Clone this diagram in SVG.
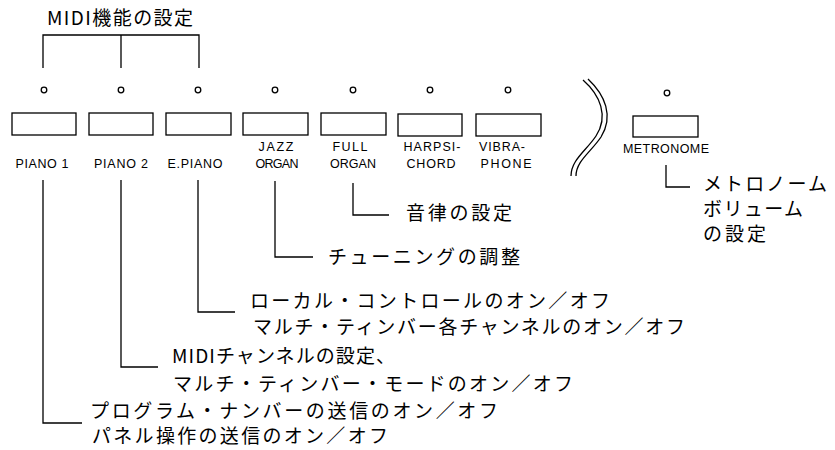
<svg xmlns="http://www.w3.org/2000/svg" width="835" height="450" viewBox="0 0 835 450">
<style>
.bg{fill:#fff}
.btn{fill:#fff;stroke:#000;stroke-width:1.3}
.led{fill:#fff;stroke:#000;stroke-width:1.3}
.ln{fill:none;stroke:#000;stroke-width:1.3}
.lbl{font-family:"Liberation Sans",Arial,sans-serif;font-size:12.5px;fill:#000;text-anchor:middle}
.jp{font-family:"Noto Sans CJK JP","Noto Sans",sans-serif;font-size:19px;fill:#000}
</style>
<rect class="bg" x="0" y="0" width="835" height="450"/>
<g id="title">
<text class="jp" x="47" y="25" textLength="146" lengthAdjust="spacing">MIDI機能の設定</text>
</g>
<g id="btn-piano1">
<circle class="led" cx="44" cy="90" r="2.8"/>
<rect class="btn" x="12" y="113" width="64" height="22"/>
<text class="lbl" x="42" y="168" textLength="53" lengthAdjust="spacing">PIANO 1</text>
</g>
<g id="btn-piano2">
<circle class="led" cx="121" cy="90" r="2.8"/>
<rect class="btn" x="89" y="113" width="64" height="22"/>
<text class="lbl" x="121" y="168" textLength="54" lengthAdjust="spacing">PIANO 2</text>
</g>
<g id="btn-epiano">
<circle class="led" cx="198" cy="90" r="2.8"/>
<rect class="btn" x="166" y="113" width="65" height="22"/>
<text class="lbl" x="195" y="168" textLength="55" lengthAdjust="spacing">E.PIANO</text>
</g>
<g id="btn-jazz">
<circle class="led" cx="275" cy="90" r="2.8"/>
<rect class="btn" x="243" y="113" width="65" height="22"/>
<text class="lbl" x="276" y="151" textLength="35" lengthAdjust="spacing">JAZZ</text>
<text class="lbl" x="277" y="168" textLength="43" lengthAdjust="spacing">ORGAN</text>
</g>
<g id="btn-full">
<circle class="led" cx="353" cy="90" r="2.8"/>
<rect class="btn" x="321" y="113" width="65" height="22"/>
<text class="lbl" x="350" y="151" textLength="35" lengthAdjust="spacing">FULL</text>
<text class="lbl" x="353" y="168" textLength="46" lengthAdjust="spacing">ORGAN</text>
</g>
<g id="btn-harpsi">
<circle class="led" cx="430" cy="90" r="2.8"/>
<rect class="btn" x="398" y="114" width="64" height="22"/>
<text class="lbl" x="432" y="151" textLength="57" lengthAdjust="spacing">HARPSI-</text>
<text class="lbl" x="431" y="168" textLength="49" lengthAdjust="spacing">CHORD</text>
</g>
<g id="btn-vibra">
<circle class="led" cx="508" cy="90" r="2.8"/>
<rect class="btn" x="476" y="114" width="65" height="22"/>
<text class="lbl" x="502" y="151" textLength="46" lengthAdjust="spacing">VIBRA-</text>
<text class="lbl" x="506" y="168" textLength="51" lengthAdjust="spacing">PHONE</text>
</g>
<g id="separator">
<path class="ln" d="M583,80 C600,95 609,116 596,136 C586,151 571,160 571,176"/>
<path class="ln" d="M588,79 C605,95 614,116 601,137 C591,152 576,161 576,176"/>
</g>
<g id="btn-metronome">
<circle class="led" cx="667" cy="93" r="2.8"/>
<rect class="btn" x="633" y="116" width="65" height="21"/>
<text class="lbl" x="666" y="153" textLength="86" lengthAdjust="spacing">METRONOME</text>
</g>
<g id="connectors">
<path class="ln" d="M43,68 V35 H199 V68 M121,35 V68"/>
<path class="ln" d="M43,180 V423 H82"/>
<path class="ln" d="M121,180 V367 H158"/>
<path class="ln" d="M198,180 V312 H235"/>
<path class="ln" d="M275,181 V257 H313"/>
<path class="ln" d="M353,183 V215 H389"/>
<path class="ln" d="M666,165 V187 H690"/>
</g>
<g id="desc-full">
<text class="jp" x="406" y="220" textLength="106" lengthAdjust="spacing">音律の設定</text>
</g>
<g id="desc-jazz">
<text class="jp" x="328" y="264" textLength="192" lengthAdjust="spacing">チューニングの調整</text>
</g>
<g id="desc-epiano">
<text class="jp" x="250" y="308" textLength="360" lengthAdjust="spacing">ローカル・コントロールのオン／オフ</text>
<text class="jp" x="253" y="334" textLength="432" lengthAdjust="spacing">マルチ・ティンバー各チャンネルのオン／オフ</text>
</g>
<g id="desc-piano2">
<text class="jp" x="172" y="363" textLength="223" lengthAdjust="spacing">MIDIチャンネルの設定、</text>
<text class="jp" x="173" y="391" textLength="400" lengthAdjust="spacing">マルチ・ティンバー・モードのオン／オフ</text>
</g>
<g id="desc-piano1">
<text class="jp" x="90" y="418" textLength="408" lengthAdjust="spacing">プログラム・ナンバーの送信のオン／オフ</text>
<text class="jp" x="92" y="443" textLength="296" lengthAdjust="spacing">パネル操作の送信のオン／オフ</text>
</g>
<g id="desc-metronome">
<text class="jp" x="703" y="191" textLength="124" lengthAdjust="spacing">メトロノーム</text>
<text class="jp" x="703" y="216" textLength="100" lengthAdjust="spacing">ボリューム</text>
<text class="jp" x="703" y="241" textLength="63" lengthAdjust="spacing">の設定</text>
</g>
</svg>
